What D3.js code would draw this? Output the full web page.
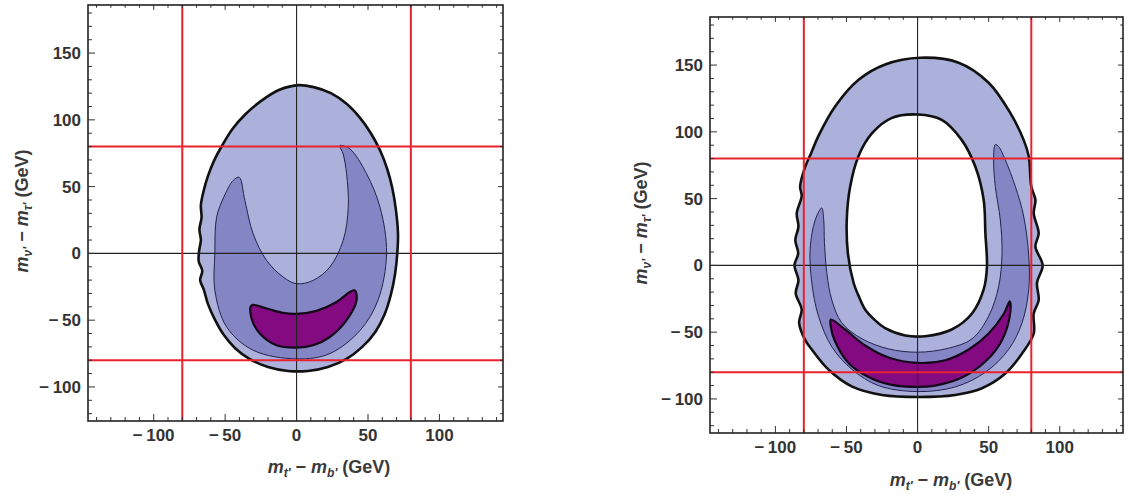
<!DOCTYPE html>
<html>
<head>
<meta charset="utf-8">
<script src="https://cdn.jsdelivr.net/npm/d3@7"></script>
<style>
  body { margin: 0; background: #fff; }
  svg { display: block; }
  text { font-family: "Liberation Sans", Arial, sans-serif; }
</style>
</head>
<body>
<div id="chart-area"></div>
<script>
// contour outlines, in GeV (x = m_t' - m_b', y = m_nu' - m_tau')
var leftOuter = [[1.5,126],[12,124.5],[24,120],[35,112],[44,102],[52,90],[58.5,77],[63.5,63],[67,49],[69.5,33],
  [71,15],[70.5,0],[69,-15],[66,-31],[61.5,-46],[55,-59],[46,-70],[35,-79],[22,-85],[8,-88],[-6,-88],[-20,-85],
  [-33,-79],[-43,-71],[-51,-61],[-57,-50],[-62,-38],[-65,-27],[-67.5,-20],[-66,-13],[-68.5,-6],[-68.2,2],[-67,10],
  [-68,18],[-66.5,27],[-67,36],[-65,47],[-62,58],[-57.5,70],[-52,81],[-45,93],[-36,104],[-25,114],[-12,122.5]];
var leftMiddle = [[-40.2,57],[-44.4,54.6],[-51,42],[-56,27],[-57.2,0],[-57.2,-27.7],[-49,-55],[-30.4,-72.5],
  [0,-79],[23.3,-75],[44.5,-57.6],[57,-35],[63,0],[58.4,34.6],[49,59.6],[37.3,78.3],[30.3,80.7],[32.6,74.5],
  [35,59.6],[36.2,34.6],[32.6,9.7],[23.3,-10.2],[11.6,-20.2],[0,-22.7],[-9.4,-17.7],[-21,-5.2],[-30.4,14.7],[-36.2,39.6]];
var leftCore = [[-31.5,-38.9],[-21,-41.3],[-9.4,-44.6],[0,-45.3],[14,-43],[28,-36.4],[37.3,-28.9],[40.8,-27.7],
  [42,-35],[35,-50],[23.3,-62.6],[11.6,-68.8],[0,-70.5],[-14,-68.8],[-25.7,-60],[-31.5,-48.8]];

var rightOuter = [[1.9,155.5],[28.9,151.8],[50,136.8],[65.3,114],[74.6,94],[78.2,81.8],[80,59],[82.9,49],[81.7,39],
  [85.2,24],[82.9,14],[88,0],[84,-13],[85.2,-26],[81.7,-36],[81.7,-51],[73.5,-66],[61.7,-81],[45.3,-92],[26.5,-97],
  [0.7,-98.5],[-25,-97],[-46,-90.8],[-62.7,-78],[-74.4,-63],[-79,-56],[-83.3,-43],[-81.5,-33],[-85.7,-21],[-83.8,-11],
  [-86.6,0],[-84,9],[-86,19],[-83.8,29],[-85,39],[-81.5,52],[-82.6,59],[-79,74],[-74.9,84],[-69.7,97],[-58,119],
  [-41.5,139],[-22.8,150.5]];
var rightHole = [[0,113],[17,109],[31,94],[40.6,74],[46.5,49],[47.7,24],[48.8,-1],[46.5,-18],[38.3,-36],[24,-48],
  [5.4,-53],[-8.7,-52.5],[-22.8,-47],[-30,-41],[-36.9,-33],[-41,-24],[-45,-13],[-49,9],[-49.8,34],[-47.4,59],
  [-41.5,82],[-32,99],[-18,110.5]];
var rightMiddle = [[-67.4,43],[-72,34],[-75.6,11.8],[-74.4,-13],[-69.7,-38],[-60.3,-61],[-46,-78],[-27.5,-90],
  [0,-94.5],[26.5,-91],[47.7,-80],[64,-63],[73.5,-43],[78.2,-18],[78.2,7],[74.6,37],[68.8,59],[61.7,79],[57,89],
  [54.7,90.5],[53.5,79],[54.7,59],[58.2,34],[59.4,9],[57,-16],[50,-38],[38.3,-55],[21.8,-62],[0,-65],[-20.4,-62.5],
  [-39,-55],[-53.3,-43],[-60.3,-26],[-63.8,-6],[-65.5,17],[-66,34]];
var rightCore = [[-61,-40.5],[-51,-48],[-36.9,-60],[-20.4,-69],[0,-73],[19.5,-71],[36,-63],[50,-51],[60.8,-36],
  [64.8,-27],[65.3,-34.5],[59.4,-56],[47.7,-72],[31.2,-84],[12.4,-90],[0,-91],[-18,-89.5],[-34.5,-83.5],
  [-48.6,-73],[-58,-57],[-61,-46]];

var cutLines = [-80, 80];
var xTicks = [-100, -50, 0, 50, 100];
var yTicks = [-100, -50, 0, 50, 100, 150];
var xMinor = d3.range(-140, 141, 10);
var yMinor = d3.range(-120, 181, 10);

const W = 1129, H = 498;
const svg = d3.select("#chart-area").append("svg").attr("width", W).attr("height", H);

const panels = [
  { id: "L", x0: 88, x1: 503, y0: 5, y1: 421, outer: leftOuter, hole: null, middle: leftMiddle, core: leftCore,
    xLab: [329, 467], yLab: [22, 211] },
  { id: "R", x0: 710, x1: 1123, y0: 17, y1: 433, outer: rightOuter, hole: rightHole, middle: rightMiddle, core: rightCore,
    xLab: [951, 480], yLab: [641, 223] }
];

const fmt = v => v < 0 ? "\u2212\u2009" + Math.abs(v) : String(v);

panels.forEach(p => {
  const x = d3.scaleLinear().domain([-146, 144.5]).range([p.x0, p.x1]);
  const y = d3.scaleLinear().domain([-125.5, 186]).range([p.y1, p.y0]);
  const line = d3.line().x(d => x(d[0])).y(d => y(d[1])).curve(d3.curveCatmullRomClosed.alpha(0.5));

  svg.append("clipPath").attr("id", "clip" + p.id).append("rect")
    .attr("x", p.x0).attr("y", p.y0).attr("width", p.x1 - p.x0).attr("height", p.y1 - p.y0);
  const g = svg.append("g").attr("clip-path", `url(#clip${p.id})`);

  // outer region (with hole on the right panel)
  g.append("path")
    .attr("d", line(p.outer) + (p.hole ? line(p.hole) : ""))
    .attr("fill", "#abb1db").attr("fill-rule", "evenodd");
  g.append("path").attr("d", line(p.middle))
    .attr("fill", "#8485c5").attr("stroke", "#23234a").attr("stroke-width", 1);
  g.append("path").attr("d", line(p.core))
    .attr("fill", "#840a82").attr("stroke", "#150818").attr("stroke-width", 2.2);
  g.append("path").attr("d", line(p.outer))
    .attr("fill", "none").attr("stroke", "#111").attr("stroke-width", 2.6);
  if (p.hole) g.append("path").attr("d", line(p.hole))
    .attr("fill", "none").attr("stroke", "#111").attr("stroke-width", 2.6);

  // zero axes
  g.append("line").attr("x1", x(0)).attr("x2", x(0)).attr("y1", p.y0).attr("y2", p.y1)
    .attr("stroke", "#222").attr("stroke-width", 1.1);
  g.append("line").attr("x1", p.x0).attr("x2", p.x1).attr("y1", y(0)).attr("y2", y(0))
    .attr("stroke", "#222").attr("stroke-width", 1.1);

  // red cut lines at +-80
  g.selectAll(".cv").data(cutLines).enter().append("line")
    .attr("x1", d => x(d)).attr("x2", d => x(d)).attr("y1", p.y0).attr("y2", p.y1)
    .attr("stroke", "#e8222e").attr("stroke-width", 2);
  g.selectAll(".ch").data(cutLines).enter().append("line")
    .attr("x1", p.x0).attr("x2", p.x1).attr("y1", d => y(d)).attr("y2", d => y(d))
    .attr("stroke", "#e8222e").attr("stroke-width", 2);

  // frame ticks, all four sides, pointing inward
  const tk = svg.append("g").attr("stroke", "#333").attr("stroke-width", 1);
  const tx = xMinor.map(v => ({ v: v, len: v % 50 === 0 ? 7 : 4 }));
  const ty = yMinor.map(v => ({ v: v, len: v % 50 === 0 ? 7 : 4 }));
  tk.selectAll(".tb").data(tx).enter().append("line")
    .attr("x1", d => x(d.v)).attr("x2", d => x(d.v)).attr("y1", p.y1).attr("y2", d => p.y1 - d.len);
  tk.selectAll(".tt").data(tx).enter().append("line")
    .attr("x1", d => x(d.v)).attr("x2", d => x(d.v)).attr("y1", p.y0).attr("y2", d => p.y0 + d.len * 0.7);
  tk.selectAll(".tl").data(ty).enter().append("line")
    .attr("y1", d => y(d.v)).attr("y2", d => y(d.v)).attr("x1", p.x0).attr("x2", d => p.x0 + d.len);
  tk.selectAll(".tr").data(ty).enter().append("line")
    .attr("y1", d => y(d.v)).attr("y2", d => y(d.v)).attr("x1", p.x1).attr("x2", d => p.x1 - d.len * 0.7);

  svg.append("rect").attr("x", p.x0).attr("y", p.y0).attr("width", p.x1 - p.x0).attr("height", p.y1 - p.y0)
    .attr("fill", "none").attr("stroke", "#222").attr("stroke-width", 1.6);

  // tick labels
  svg.selectAll(".xl" + p.id).data(xTicks).enter().append("text")
    .attr("x", d => x(d)).attr("y", p.y1 + 20).attr("text-anchor", "middle")
    .attr("font-size", 17).attr("font-weight", "bold").attr("fill", "#333").text(fmt);
  svg.selectAll(".yl" + p.id).data(yTicks).enter().append("text")
    .attr("x", p.x0 - 7).attr("y", d => y(d) + 6).attr("text-anchor", "end")
    .attr("font-size", 17).attr("font-weight", "bold").attr("fill", "#333").text(fmt);

  // axis titles
  const lab = (sel, a, b) => {
    sel.attr("font-size", 18).attr("font-weight", "bold").attr("fill", "#3a3a3a").attr("text-anchor", "middle");
    sel.append("tspan").attr("font-style", "italic").text("m");
    sel.append("tspan").attr("font-style", "italic").attr("font-size", 12).attr("dy", 4).text(a);
    sel.append("tspan").attr("dy", -4).text(" \u2212 ");
    sel.append("tspan").attr("font-style", "italic").text("m");
    sel.append("tspan").attr("font-style", "italic").attr("font-size", 12).attr("dy", 4).text(b);
    sel.append("tspan").attr("dy", -4).text(" (GeV)");
  };
  lab(svg.append("text").attr("x", p.xLab[0]).attr("y", p.xLab[1] + 6), "t\u2032", "b\u2032");
  lab(svg.append("text").attr("transform", `translate(${p.yLab[0] + 6},${p.yLab[1]}) rotate(-90)`), "\u03bd\u2032", "\u03c4\u2032");
});
</script>
</body>
</html>
